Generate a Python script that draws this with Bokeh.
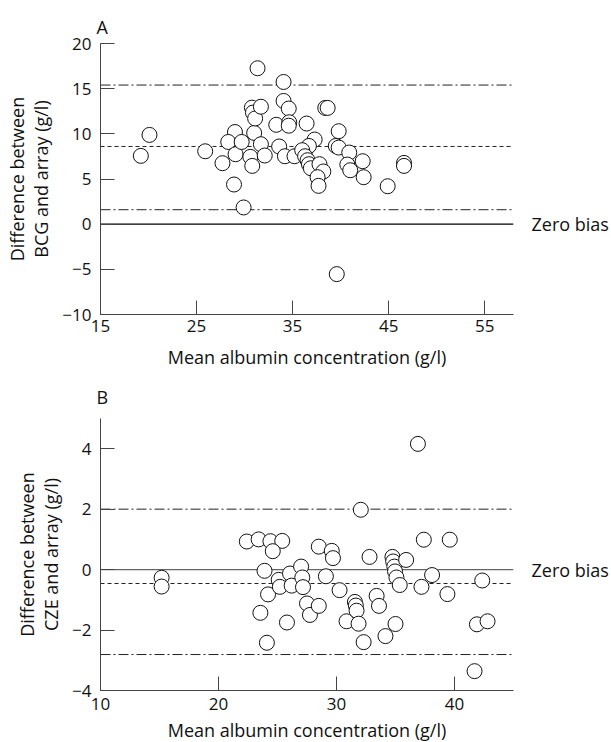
from bokeh.plotting import figure
from bokeh.models import Range1d, Span, LinearAxis, FixedTicker
from bokeh.layouts import column
from bokeh.embed import file_html
from bokeh.resources import INLINE

FONT = "Open Sans"

# ---------------- Panel A : BCG vs array ----------------
a_x = [19.2, 20.1, 25.9, 27.7, 28.9, 29.9, 29.0, 28.3, 29.06, 29.7, 30.6, 30.8,
       31.0, 30.76, 30.87, 31.1, 31.7, 31.35, 31.7, 32.1, 33.3, 33.6, 34.06, 34.06,
       34.6, 34.65, 34.6, 34.2, 35.2, 36.46, 37.3, 36.7, 36.0, 36.3, 36.56, 36.7,
       36.9, 37.8, 38.2, 37.6, 37.7, 38.4, 38.65, 39.8, 39.5, 39.8, 40.9, 40.7,
       41.0, 42.3, 42.4, 44.9, 46.6, 46.6, 39.6]
a_y = [7.56, 9.88, 8.07, 6.75, 4.39, 1.85, 10.2, 9.1, 7.74, 9.1, 7.45, 6.45,
       10.1, 12.9, 12.35, 11.7, 13.0, 17.26, 8.85, 7.6, 11.0, 8.6, 15.74, 13.64,
       12.8, 11.28, 10.9, 7.52, 7.52, 11.14, 9.37, 8.66, 8.19, 7.52, 7.08, 6.64,
       6.19, 6.64, 5.83, 5.2, 4.24, 12.87, 12.87, 10.29, 8.66, 8.48, 7.93, 6.6,
       5.97, 6.97, 5.2, 4.2, 6.78, 6.45, -5.53]
a_mean, a_upper, a_lower = 8.6, 15.4, 1.6
a_xticks = [15, 25, 35, 45, 55]
a_yticks = [-10, -5, 0, 5, 10, 15, 20]
a_ylabels = ["\u221210", "\u22125", "0", "5", "10", "15", "20"]
a_ylabel = "Difference between\nBCG and array (g/l)"

# ---------------- Panel B : CZE vs array ----------------
b_x = [15.18, 15.18, 22.4, 23.4, 24.4, 25.4, 24.6, 23.9, 23.55, 24.2, 24.1, 25.1,
       25.2, 26.06, 26.2, 25.8, 27.0, 27.1, 27.16, 27.5, 27.75, 28.5, 28.5, 29.1,
       29.6, 29.7, 30.26, 30.85, 31.56, 31.64, 31.7, 31.87, 32.3, 32.06, 32.8, 33.4,
       33.6, 34.15, 34.74, 34.8, 34.9, 34.96, 35.08, 35.36, 35.0, 35.9, 36.9, 37.4,
       37.2, 38.1, 39.6, 39.4, 41.7, 41.9, 42.8, 42.35]
b_y = [-0.27, -0.56, 0.93, 1.0, 0.94, 0.95, 0.61, -0.04, -1.43, -0.82, -2.42, -0.34,
       -0.57, -0.13, -0.53, -1.75, 0.1, -0.26, -0.58, -1.12, -1.5, -1.2, 0.76, -0.22,
       0.62, 0.38, -0.68, -1.71, -1.07, -1.19, -1.36, -1.79, -2.4, 1.98, 0.42, -0.87,
       -1.2, -2.2, 0.42, 0.27, 0.1, -0.06, -0.26, -0.51, -1.8, 0.32, 4.16, 0.99,
       -0.57, -0.18, 0.99, -0.81, -3.36, -1.81, -1.71, -0.36]
b_mean, b_upper, b_lower = -0.46, 2.0, -2.81
b_xticks = [10, 20, 30, 40]
b_yticks = [-4, -2, 0, 2, 4]
b_ylabels = ["\u22124", "\u22122", "0", "2", "4"]
b_ylabel = "Difference between\nCZE and array (g/l)"

x_label = "Mean albumin concentration (g/l)"
zero_text = "Zero bias"


def panel(letter, xs, ys, xr, yr, xticks, yticks, ylabels, mean, upper, lower,
          ylabel, fh, top, bottom, zero_color, xl_standoff, xa_standoff, t_standoff):
    p = figure(frame_width=413, frame_height=fh,
               x_range=Range1d(*xr), y_range=Range1d(*yr),
               output_backend="svg", toolbar_location=None,
               min_border_left=100, min_border_right=0,
               min_border_top=top, min_border_bottom=bottom,
               outline_line_color=None)
    p.grid.visible = False

    p.title.text = letter
    p.title.align = "left"
    p.title.text_font = FONT
    p.title.text_font_size = "18px"
    p.title.text_font_style = "normal"
    p.title.text_color = "#111111"
    p.title.offset = -4
    p.title.standoff = t_standoff

    for ax in (p.xaxis[0], p.yaxis[0]):
        ax.axis_line_color = "#444444"
        ax.major_tick_line_color = "#444444"
        ax.major_tick_in = 14
        ax.major_tick_out = 0
        ax.minor_tick_line_color = None
        ax.major_label_text_font = FONT
        ax.major_label_text_font_size = "17px"
        ax.major_label_text_color = "#111111"
        ax.axis_label_text_font = FONT
        ax.axis_label_text_font_size = "18px"
        ax.axis_label_text_font_style = "normal"
        ax.axis_label_text_color = "#111111"

    p.xaxis.ticker = FixedTicker(ticks=xticks)
    p.xaxis.axis_label = x_label
    p.xaxis.major_label_standoff = xl_standoff
    p.xaxis.axis_label_standoff = xa_standoff

    p.yaxis.ticker = FixedTicker(ticks=yticks)
    p.yaxis.major_label_overrides = {t: l for t, l in zip(yticks, ylabels)}
    p.yaxis.axis_label = ylabel
    p.yaxis.axis_label_text_line_height = 1.0
    p.yaxis.major_label_standoff = 9
    p.yaxis.axis_label_standoff = 6

    right = LinearAxis(ticker=FixedTicker(ticks=[0]),
                       major_label_overrides={0: zero_text},
                       axis_line_color=None, major_tick_line_color=None,
                       minor_tick_line_color=None,
                       major_label_standoff=12,
                       major_label_text_font=FONT,
                       major_label_text_font_size="18px",
                       major_label_text_color="#111111")
    p.add_layout(right, "right")

    p.add_layout(Span(location=0, dimension="width", line_color=zero_color,
                      line_width=1.2, level="underlay"))
    p.add_layout(Span(location=mean, dimension="width", line_color="#222222",
                      line_width=1, line_dash="4 3", level="underlay"))
    for v in (upper, lower):
        p.add_layout(Span(location=v, dimension="width", line_color="#222222",
                          line_width=1, line_dash="10 3 2 3", level="underlay"))

    p.scatter(xs, ys, size=15, marker="circle", fill_color="white",
              line_color="#111111", line_width=1)
    return p


pA = panel("A", a_x, a_y, (15, 58), (-10, 20), a_xticks, a_yticks, a_ylabels,
           a_mean, a_upper, a_lower, a_ylabel, 271, 43, 58, "#000000", 5, 10, 10)
pB = panel("B", b_x, b_y, (10, 45), (-4, 5), b_xticks, b_yticks, b_ylabels,
           b_mean, b_upper, b_lower, b_ylabel, 272, 45, 0, "#666666", 7, 5, 20)

layout = column(pA, pB)
open("out.html", "w").write(file_html(layout, INLINE))
